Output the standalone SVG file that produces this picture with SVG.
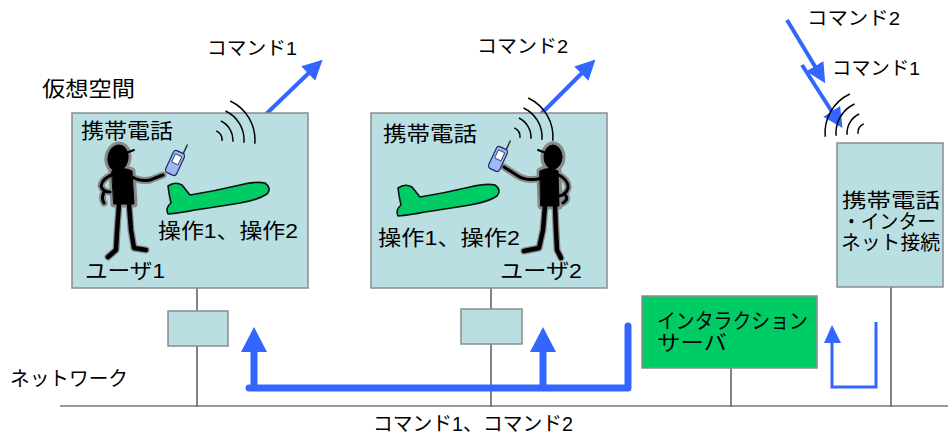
<svg xmlns="http://www.w3.org/2000/svg" xmlns:xlink="http://www.w3.org/1999/xlink" width="948" height="439" viewBox="0 0 948 439">
  <style>
    .t { font-family: "Liberation Sans", "Noto Sans CJK JP", sans-serif; fill: #000; }
    .box { fill: #b9dfe2; stroke: #8c8c8c; stroke-width: 1.5; }
    .srv { fill: #00cc66; stroke: #8c8c8c; stroke-width: 1.5; }
    .wire { stroke: #333; stroke-width: 1.2; fill: none; }
    .wave { stroke: #000; stroke-width: 1.5; fill: none; }
    .flow { stroke: #3366ff; fill: none; }
    .head { fill: #3366ff; }
    .halo { stroke: #8a8a8a; fill: none; stroke-linecap: round; stroke-linejoin: round; }
    .ink { stroke: #000; fill: none; stroke-linecap: round; stroke-linejoin: round; }
    .plane { fill: #00cc66; stroke: #111; stroke-width: 1.6; stroke-linejoin: round; }
    .phone { fill: #9fb8f5; stroke: #1a2a66; stroke-width: 1.2; }
  </style>
  <defs>
    <marker id="arr" markerWidth="5" markerHeight="5" refX="2" refY="2.5" orient="auto" markerUnits="strokeWidth">
      <path d="M0,0 L5,2.5 L0,5 Z" fill="#3366ff"/>
    </marker>
    <path id="plane" d="M168 186 Q175 181 182 185 L190 195 Q215 191 240 185 Q256 181 265 183 Q272 188 267 194 Q258 200 240 203 Q215 207 195 210 Q180 213 168 214 Q165 208 171 203 Q169 195 168 186 Z"/>
    <g id="phone">
      <rect x="-6" y="-12" width="12" height="24" rx="3"/>
      <rect x="-3.5" y="-8.5" width="7" height="9" fill="#fff" stroke-width="0.8"/>
      <line x1="3.5" y1="-12" x2="3.5" y2="-22" stroke="#333" stroke-width="1.5"/>
    </g>
  </defs>

  <!-- network backbone -->
  <g id="connectors">
    <line class="wire" x1="60" y1="406" x2="948" y2="406" stroke-width="1.5"/>
    <line class="wire" x1="197" y1="288" x2="197" y2="406"/>
    <line class="wire" x1="491" y1="288" x2="491" y2="406"/>
    <line class="wire" x1="731" y1="368" x2="731" y2="406"/>
    <line class="wire" x1="891" y1="287" x2="891" y2="406"/>
  </g>

  <!-- command flow over the network -->
  <g id="flows">
    <path class="flow" d="M249 388 H628 M628 388 V326" stroke-width="7" stroke-linecap="round"/>
    <path class="flow" d="M254 388 V350 M543 388 V350" stroke-width="7"/>
    <polygon class="head" points="241,352 254,327 267,352"/>
    <polygon class="head" points="530,352 543,327 556,352"/>
    <path class="flow" d="M876 322 V387 H832 V341" stroke-width="3"/>
    <polygon class="head" points="824,343 832,325 841,343"/>
    <line class="flow" x1="263" y1="117" x2="314" y2="68" stroke-width="4" marker-end="url(#arr)"/>
    <line class="flow" x1="538" y1="117" x2="587" y2="68" stroke-width="4" marker-end="url(#arr)"/>
    <line class="flow" x1="787" y1="20" x2="819" y2="73" stroke-width="4" marker-end="url(#arr)"/>
    <line class="flow" x1="802" y1="65" x2="836" y2="118" stroke-width="4" marker-end="url(#arr)"/>
  </g>

  <text class="t" x="42" y="96" font-size="21" textLength="93" lengthAdjust="spacingAndGlyphs">仮想空間</text>
  <text class="t" x="10" y="386" font-size="20" textLength="118" lengthAdjust="spacingAndGlyphs">ネットワーク</text>
  <text class="t" x="373" y="431" font-size="20" textLength="200" lengthAdjust="spacingAndGlyphs">コマンド1、コマンド2</text>

  <!-- user 1 virtual space -->
  <g id="space1">
    <rect class="box" x="72" y="113" width="236" height="175"/>
    <text class="t" x="81" y="138" font-size="21" textLength="92" lengthAdjust="spacingAndGlyphs">携帯電話</text>
    <path class="wave" d="M216.2 130.9 A10 10 0 0 1 222 140.9 M220.9 121 A21 21 0 0 1 232.9 141.8 M225.5 111 A32 32 0 0 1 243.9 142.8 M230.2 101 A43 43 0 0 1 254.8 143.7"/>
    <use xlink:href="#plane" class="plane"/>
    <g class="halo" stroke-width="7">
      <ellipse cx="118" cy="158" rx="10" ry="13" transform="rotate(10 118 158)"/>
      <path d="M112 171 Q122 166 132 171 L134 204 L114 204 Z"/>
      <path d="M130 176 Q140 182 150 180 L163 175 M116 173 Q102 178 101 186 Q103 192 110 192 M104 192 Q101 198 104 203"/>
      <path d="M119 204 L117 232 L116 250 L108 257 M129 204 L131 230 L134 248 L146 250"/>
    </g>
    <g class="ink">
      <ellipse cx="118" cy="158" rx="10" ry="13" transform="rotate(10 118 158)" fill="#000"/>
      <path d="M126 153 L134 150" stroke-width="2"/>
      <path d="M112 171 Q122 166 132 171 L134 204 L114 204 Z" fill="#000"/>
      <path d="M130 176 Q140 182 150 180 L163 175 M116 173 Q102 178 101 186 Q103 192 110 192 M104 192 Q101 198 104 203" stroke-width="3"/>
      <path d="M119 204 L117 232 L116 250 L108 257 M129 204 L131 230 L134 248 L146 250" stroke-width="4.5"/>
    </g>
    <use xlink:href="#phone" class="phone" transform="translate(175 163) rotate(25)"/>
    <text class="t" x="158" y="238" font-size="21" textLength="140" lengthAdjust="spacingAndGlyphs">操作1、操作2</text>
    <text class="t" x="85" y="278" font-size="21" textLength="80" lengthAdjust="spacingAndGlyphs">ユーザ1</text>
  </g>

  <!-- user 2 virtual space -->
  <g id="space2">
    <rect class="box" x="371" y="113" width="236" height="175"/>
    <text class="t" x="383" y="141" font-size="21" textLength="94" lengthAdjust="spacingAndGlyphs">携帯電話</text>
    <path class="wave" d="M514.2 127.9 A10 10 0 0 1 520 137.9 M518.9 118 A21 21 0 0 1 530.9 138.8 M523.5 108 A32 32 0 0 1 541.9 139.8 M528.2 98 A43 43 0 0 1 552.8 140.7"/>
    <use xlink:href="#plane" class="plane" transform="translate(230 2)"/>
    <g class="halo" stroke-width="7">
      <ellipse cx="553" cy="157" rx="9" ry="12"/>
      <path d="M540 171 Q549 166 558 171 L559 206 L541 206 Z"/>
      <path d="M542 178 Q528 182 518 176 L504 167 M557 174 Q569 180 568 188 Q566 195 559 196 M566 196 Q568 200 563 203"/>
      <path d="M545 206 L543 230 L539 248 L524 251 M555 206 L556 230 L557 250 L561 258"/>
    </g>
    <g class="ink">
      <ellipse cx="553" cy="157" rx="9" ry="12" fill="#000"/>
      <path d="M546 153 L538 150" stroke-width="2"/>
      <path d="M540 171 Q549 166 558 171 L559 206 L541 206 Z" fill="#000"/>
      <path d="M542 178 Q528 182 518 176 L504 167 M557 174 Q569 180 568 188 Q566 195 559 196 M566 196 Q568 200 563 203" stroke-width="3"/>
      <path d="M545 206 L543 230 L539 248 L524 251 M555 206 L556 230 L557 250 L561 258" stroke-width="4.5"/>
    </g>
    <use xlink:href="#phone" class="phone" transform="translate(498 159) rotate(25)"/>
    <text class="t" x="378" y="245" font-size="21" textLength="142" lengthAdjust="spacingAndGlyphs">操作1、操作2</text>
    <text class="t" x="500" y="278" font-size="21" textLength="82" lengthAdjust="spacingAndGlyphs">ユーザ2</text>
  </g>

  <!-- terminal nodes on the network -->
  <g id="node1"><rect class="box" x="168" y="311" width="60" height="35"/></g>
  <g id="node2"><rect class="box" x="461" y="309" width="61" height="35"/></g>

  <g id="server">
    <rect class="srv" x="642" y="296" width="175" height="72"/>
    <text class="t" x="657" y="328" font-size="21" textLength="151" lengthAdjust="spacingAndGlyphs">インタラクション</text>
    <text class="t" x="657" y="350" font-size="21" textLength="70" lengthAdjust="spacingAndGlyphs">サーバ</text>
  </g>

  <g id="gateway">
    <rect class="box" x="837" y="143" width="106" height="144"/>
    <text class="t" x="842" y="208" font-size="20" textLength="98" lengthAdjust="spacingAndGlyphs">携帯電話</text>
    <text class="t" x="842" y="229" font-size="20" textLength="94" lengthAdjust="spacingAndGlyphs">・インター</text>
    <text class="t" x="841" y="250" font-size="20" textLength="99" lengthAdjust="spacingAndGlyphs">ネット接続</text>
    <path class="wave" d="M858 133.9 A10 10 0 0 1 863.8 123.9 M847.1 134.8 A21 21 0 0 1 859.1 114 M836.1 135.8 A32 32 0 0 1 854.5 104 M825.2 136.7 A43 43 0 0 1 849.8 94"/>
  </g>

  <g id="labels">
    <text class="t" x="207" y="55" font-size="19" textLength="90" lengthAdjust="spacingAndGlyphs">コマンド1</text>
    <text class="t" x="477" y="53" font-size="19" textLength="91" lengthAdjust="spacingAndGlyphs">コマンド2</text>
    <text class="t" x="807" y="25" font-size="19" textLength="93" lengthAdjust="spacingAndGlyphs">コマンド2</text>
    <text class="t" x="832" y="75" font-size="19" textLength="88" lengthAdjust="spacingAndGlyphs">コマンド1</text>
  </g>
</svg>
